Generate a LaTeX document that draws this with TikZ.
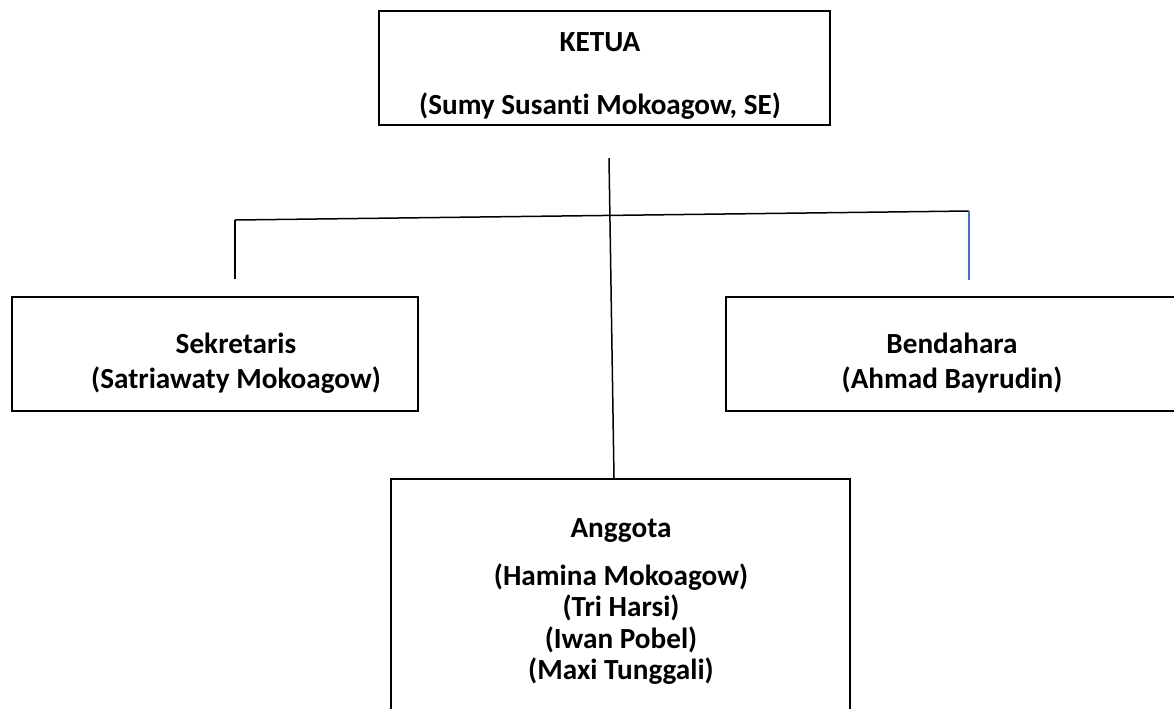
\documentclass[tikz,border=0pt]{standalone}
\usepackage{fontspec}
\setmainfont{Carlito}[Ligatures=CommonOff]
\usetikzlibrary{calc}
\definecolor{wordblue}{RGB}{68,114,196}

\begin{document}
\begin{tikzpicture}[
  x=0.5pt, y=-0.5pt,
  box/.style={draw, line width=1pt, inner sep=0pt},
  txt/.style={font=\fontsize{14.6}{15.75}\selectfont\bfseries, align=center,
              inner sep=0pt, anchor=north},
  link/.style={line width=0.75pt, draw=black},
  bluelink/.style={line width=0.9pt, draw=wordblue}
]
\useasboundingbox (0,0) rectangle (1174,708);
\clip (0,0) rectangle (1174,708);

% ---------------- top: chair ----------------
\node[box, minimum width=225.5pt, minimum height=56.75pt] (ketua) at (604.5,68) {};
\node[txt] (ketuaT) at (600,32) {KETUA\\[15.75pt] (Sumy Susanti Mokoagow, SE)};

% ---------------- middle row ----------------
\node[box, minimum width=203pt, minimum height=57pt] (sek) at (215,354) {};
\node[txt, font=\fontsize{14.6}{17.5}\selectfont\bfseries] (sekT) at (236,333)
  {Sekretaris\\ (Satriawaty Mokoagow)};

\node[box, minimum width=226pt, minimum height=57pt] (ben) at (952,354) {};
\node[txt, font=\fontsize{14.6}{17.5}\selectfont\bfseries] (benT) at (952,333)
  {Bendahara\\ (Ahmad Bayrudin)};

% ---------------- bottom: members ----------------
\node[box, minimum width=229.5pt, minimum height=140.5pt] (ang) at (620.5,619.5) {};
\node[txt] (angT) at (621,518)
  {Anggota\\[8.25pt] (Hamina Mokoagow)\\ (Tri Harsi)\\ (Iwan Pobel)\\ (Maxi Tunggali)};

% ---------------- connectors ----------------
\coordinate (stem) at (609,158);
\coordinate (armL) at (235,220);
\coordinate (armR) at (969,211);
\coordinate (sekIn) at (235,279);
\coordinate (benIn) at (969,280);

\draw[link] (stem) -- ([xshift=-3.25pt]ang.north);
\draw[link] (armL) -- (armR);
\draw[link] (armL) -- (sekIn);
\draw[bluelink] (armR) -- (benIn);

\end{tikzpicture}
\end{document}
